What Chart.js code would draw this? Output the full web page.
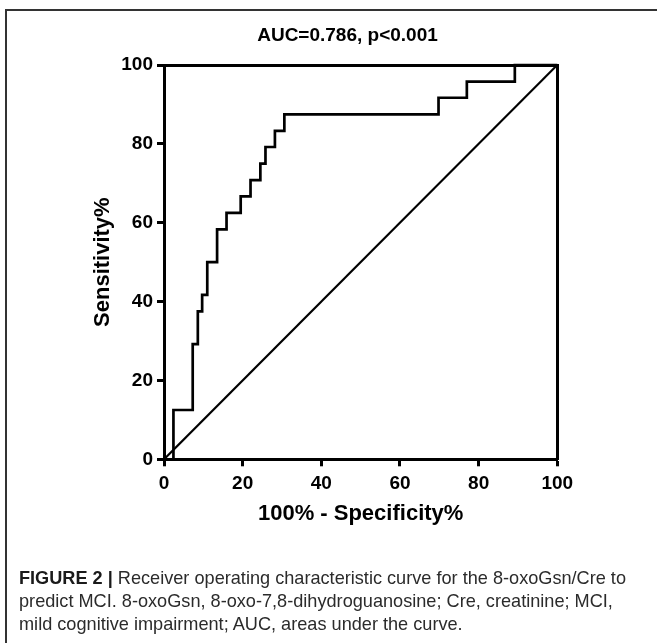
<!DOCTYPE html>
<html><head><meta charset="utf-8">
<script src="https://cdn.jsdelivr.net/npm/chart.js@4.4.1/dist/chart.umd.min.js"></script>
<style>
html,body{margin:0;padding:0;background:#fff;}
body{width:657px;height:643px;position:relative;overflow:hidden;}
#c{position:absolute;left:0;top:0;}
#frame{position:absolute;left:5px;top:9px;width:800px;height:800px;border-left:2px solid #333;border-top:2px solid #333;pointer-events:none;}
#cap{position:absolute;left:19px;top:566px;font-family:"Liberation Sans Narrow","Liberation Sans",Arial,sans-serif;font-size:19px;line-height:23px;color:#2b2b2b;white-space:nowrap;}
#cap b{color:#1a1a1a;}
#cap span{display:inline-block;transform-origin:0 50%;}
</style></head><body>
<canvas id="c" width="657" height="540"></canvas>
<div id="frame"></div>
<div id="cap"><span><b>FIGURE 2 |</b> Receiver operating characteristic curve for the 8-oxoGsn/Cre to</span><br><span>predict MCI. 8-oxoGsn, 8-oxo-7,8-dihydroguanosine; Cre, creatinine; MCI,</span><br><span>mild cognitive impairment; AUC, areas under the curve.</span></div>
<script>
// ROC curve vertices (x = 100% - Specificity%, y = Sensitivity%)
const rocFpr  = [0, 2.4, 7.3, 8.6, 9.7, 11.0, 13.5, 15.9, 19.5, 22.0, 24.5, 25.8, 28.2, 30.6, 69.8, 77.0, 89.2, 100];
const rocSens = [0, 12.5, 29.2, 37.5, 41.7, 50.0, 58.3, 62.5, 66.7, 70.8, 75.0, 79.2, 83.3, 87.5, 91.7, 95.8, 100, 100];
// reference (chance) line
const refX = [0, 100];
const refY = [0, 100];
// tick labels
const xTickValues = [0, 20, 40, 60, 80, 100];
const yTickValues = [0, 20, 40, 60, 80, 100];
const chartTitle = 'AUC=0.786, p<0.001';
const xTitle = '100% - Specificity%';
const yTitle = 'Sensitivity%';

const FONT = '"Liberation Sans", Arial, Helvetica, sans-serif';

const toPts = (xs, ys) => xs.map((x, i) => ({x: x, y: ys[i]}));

const axisCommon = (ticks) => ({
  type: 'linear', min: 0, max: 100,
  afterBuildTicks: s => { s.ticks = ticks.map(v => ({value: v})); },
  border: {display: true, width: 3, color: '#000'},
  grid: {display: true, drawOnChartArea: false, drawTicks: true, tickLength: 7, tickWidth: 3, tickColor: '#000'},
});

// fit caption lines to reference width
(function(){
  const spans = document.querySelectorAll('#cap span');
  const w0 = spans[0].getBoundingClientRect().width;
  const k = 607 / w0;
  spans.forEach(s => { s.style.transform = 'scaleX(' + k + ')'; });
})();

new Chart(document.getElementById('c'), {
  type: 'scatter',
  data: {
    datasets: [
      {data: toPts(rocFpr, rocSens), showLine: true, stepped: 'before', borderColor: '#000', borderWidth: 2.7, pointRadius: 0, fill: false, clip: 4},
      {data: toPts(refX, refY), showLine: true, borderColor: '#000', borderWidth: 2.2, pointRadius: 0, fill: false}
    ]
  },
  options: {
    responsive: false, animation: false, devicePixelRatio: 1,
    layout: {padding: {left: 38, right: 0, top: 0, bottom: 0}},
    plugins: {
      legend: {display: false}, tooltip: {enabled: false},
      title: {display: true, text: chartTitle, color: '#000', font: {family: FONT, size: 19, weight: 'bold', lineHeight: 1.2}, padding: {top: 24.5, bottom: 17.7}}
    },
    scales: {
      x: Object.assign(axisCommon(xTickValues), {
        position: 'bottom',
        ticks: {color: '#000', padding: 6, maxRotation: 0, font: {family: FONT, size: 19, weight: 'bold'}},
        title: {display: true, text: xTitle, color: '#000', font: {family: FONT, size: 22, weight: 'bold', lineHeight: 1.2}, padding: {top: 0, bottom: 12.5}},
        afterFit: s => { s.height = 80.7; }
      }),
      y: Object.assign(axisCommon(yTickValues), {
        position: 'left',
        ticks: {color: '#000', padding: 4, font: {family: FONT, size: 19, weight: 'bold'}},
        title: {display: true, text: yTitle, color: '#000', font: {family: FONT, size: 22, weight: 'bold', lineHeight: 1.2}, padding: {top: 51.5, bottom: 0}},
        afterFit: s => { s.width = 126; }
      }),
      x2: {type: 'linear', position: 'top', min: 0, max: 100, display: true,
        ticks: {display: false}, grid: {display: false, drawTicks: false},
        border: {display: true, width: 3, color: '#000'},
        afterFit: s => { s.height = 0; }},
      y2: {type: 'linear', position: 'right', min: 0, max: 100, display: true,
        ticks: {display: false}, grid: {display: false, drawTicks: false},
        border: {display: true, width: 3, color: '#000'},
        afterFit: s => { s.width = 99.7; }}
    }
  }
});
</script>
</body></html>
